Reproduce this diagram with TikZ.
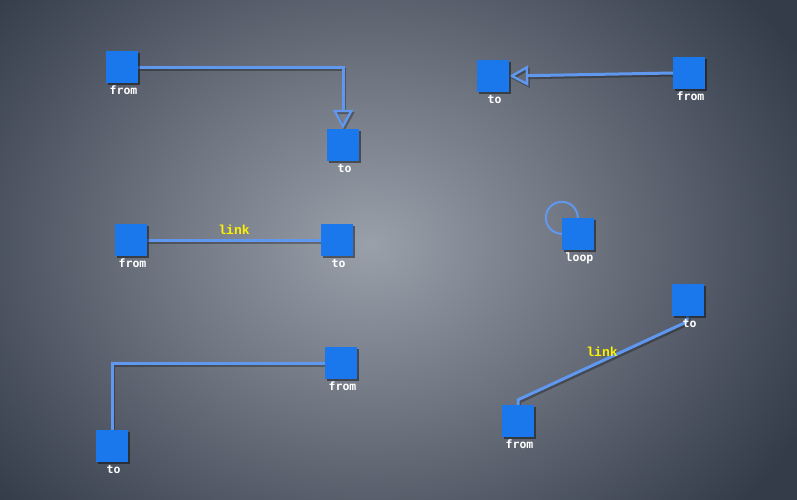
\documentclass[tikz,border=0pt]{standalone}
\usepackage{fontspec}
\newfontfamily\lblfont{DejaVu Sans Mono}
\newfontfamily\linkfont{Liberation Mono}
\usetikzlibrary{arrows.meta,shadows,calc}
\definecolor{boxblue}{HTML}{1A78EC}
\definecolor{lineblue}{HTML}{5F98EE}
\definecolor{bginner}{HTML}{9AA0AA}
\definecolor{bgouter}{HTML}{343B49}
\pgfdeclarelayer{bg}
\pgfdeclarelayer{edges}
\pgfsetlayers{bg,edges,main}
\tikzset{
  sq/.style={rectangle, fill=boxblue, minimum size=32pt, inner sep=0pt,
    drop shadow={shadow xshift=2pt, shadow yshift=-2pt, opacity=0.45, fill=black}},
  lbl/.style={text=white, font=\lblfont\bfseries\fontsize{11.5}{11.5}\selectfont,
    inner sep=0pt, text height=7pt, text depth=0pt, xshift=1.5pt},
  every label/.style={lbl},
  label distance=4.5pt,
  conn/.style={draw=lineblue, line width=3pt,
    preaction={draw=black, opacity=0.3, line width=3pt,
      transform canvas={shift={(1.5pt,-2pt)}}}},
  tip/.style={-{Triangle[open, length=19pt, width=20pt, line width=2.4pt]}},
  linklbl/.style={text=yellow, font=\linkfont\bfseries\fontsize{13}{13}\selectfont,
    inner sep=0pt}
}
\begin{document}
\begin{tikzpicture}[x=1pt, y=-1pt]
\useasboundingbox (0,0) rectangle (797,499);
\begin{pgfonlayer}{bg}
  \begin{scope}
    \clip (0,0) rectangle (797,499);
    \shade[inner color=bginner, outer color=bgouter] (-120,-150) rectangle (860,640);
  \end{scope}
\end{pgfonlayer}

% top-left
\node[sq, label=below:from] (fa) at (122,67) {};
\node[sq, label=below:to] (ta) at (343,145) {};
% top-right
\node[sq, label=below:to] (tb) at (493,76) {};
\node[sq, label=below:from] (fb) at (689,73) {};
% middle-left
\node[sq, label=below:from] (fc) at (131,240) {};
\node[sq, label=below:to] (tc) at (337,240) {};
% loop
\node[sq, label=below:loop] (ld) at (578,234) {};
% bottom-right
\node[sq, label=below:to] (te) at (688,300) {};
\node[sq, label=below:from] (fe) at (518,421) {};
% bottom-left
\node[sq, label=below:from] (ff) at (341,363) {};
\node[sq, label=below:to] (tf) at (112,446) {};

\begin{pgfonlayer}{edges}
  \draw[conn, tip] (fa.east) -| (ta.north);
  \draw[conn, tip] (fb.west) -- (tb.east);
  \draw[conn] (fc.east) -- node[linklbl, midway, yshift=10pt] (lc) {link} (tc.west);
  \draw[draw=lineblue, line width=2pt] (ld.north west) circle (16);
  \draw[conn] (fe.north) -- ++(0,-5) -- ($(te.south)+(-2,6)$)
     node[linklbl, pos=0.5, yshift=9pt] (le) {link} -- (te.south);
  \draw[conn] (ff.west) -| (tf.north);
\end{pgfonlayer}
\end{tikzpicture}
\end{document}
